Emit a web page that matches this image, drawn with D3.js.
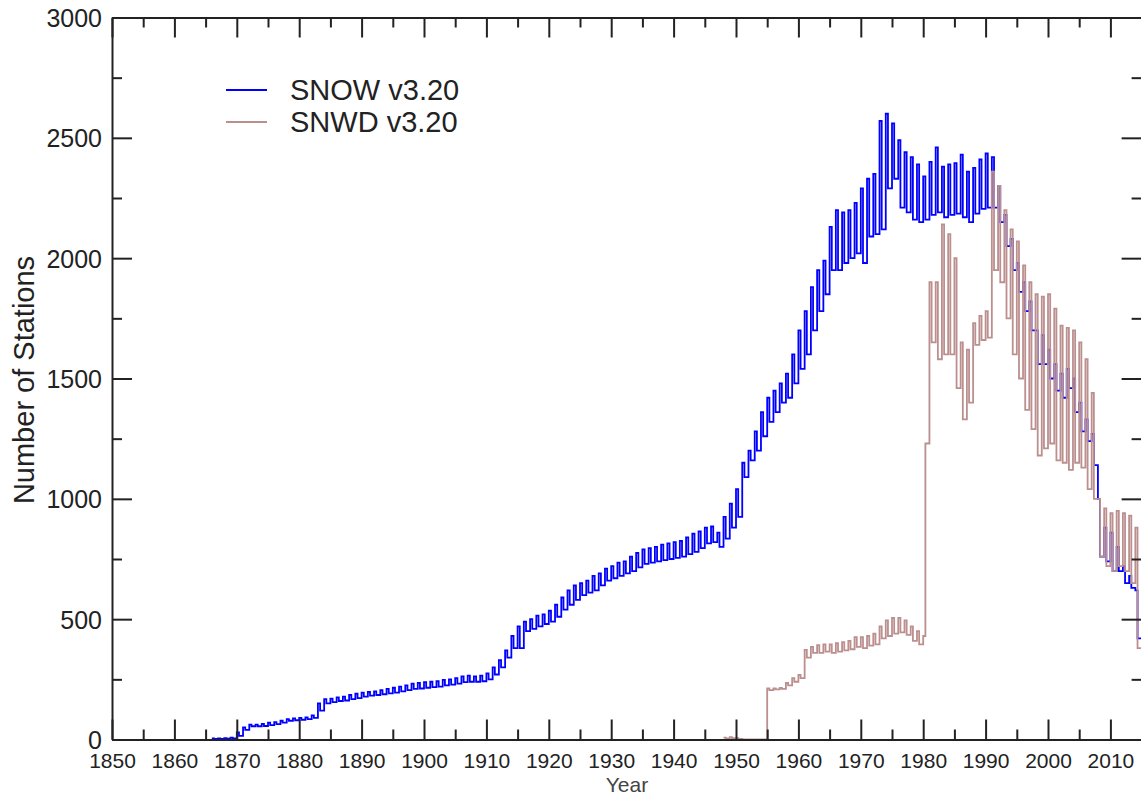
<!DOCTYPE html>
<html>
<head>
<meta charset="utf-8">
<script src="https://cdn.jsdelivr.net/npm/d3@7"></script>
<style>
  body { margin: 0; background: #fff; }
  svg { display: block; font-family: "Liberation Sans", Arial, sans-serif; }
  .axis path, .axis line { stroke: #222; stroke-width: 2; }
  .axis text { fill: #222; }
</style>
</head>
<body>
<script>
// station counts, one [winter high, summer low] pair per year
var snowStart = 1866
var snowHigh = [5, 5, 6, 8, 30, 50, 62, 62, 65, 70, 72, 78, 85, 88, 90, 92, 100,
  150, 168, 170, 175, 178, 185, 190, 195, 198, 200, 205, 210, 215, 220, 225, 232, 235,
  238, 240, 242, 248, 250, 255, 262, 265, 262, 265, 275, 300, 330, 370, 430, 470, 490,
  500, 515, 520, 535, 560, 590, 620, 640, 650, 660, 680, 690, 710, 720, 735, 740, 760,
  775, 790, 795, 800, 810, 815, 820, 825, 840, 855, 865, 880, 885, 860, 925, 980, 1040,
  1150, 1200, 1280, 1360, 1420, 1450, 1480, 1520, 1600, 1700, 1780, 1880, 1950, 1990,
  2130, 2200, 2190, 2200, 2230, 2290, 2330, 2350, 2570, 2600, 2560, 2490, 2440, 2420,
  2390, 2340, 2400, 2460, 2380, 2390, 2395, 2430, 2360, 2375, 2410, 2435, 2420, 2300,
  2180, 2080, 1980, 1900, 1820, 1700, 1680, 1620, 1560, 1520, 1540, 1500, 1400, 1330,
  1270, 1000, 880, 860, 800, 720, 680, 620]
var snowLow = [3, 3, 4, 5, 15, 40, 55, 55, 56, 60, 64, 70, 78, 80, 82, 85, 90,
  120, 150, 155, 160, 162, 168, 172, 178, 182, 185, 188, 192, 195, 200, 205, 210, 212,
  215, 218, 220, 225, 228, 232, 238, 240, 240, 242, 250, 270, 300, 340, 380, 380, 450,
  460, 470, 480, 490, 510, 540, 560, 580, 600, 610, 620, 640, 660, 670, 680, 690, 700,
  715, 730, 735, 740, 745, 750, 755, 760, 770, 780, 795, 815, 820, 800, 835, 880, 925,
  1090, 1160, 1200, 1260, 1320, 1360, 1400, 1420, 1480, 1540, 1600, 1700, 1780, 1850,
  1950, 1950, 1980, 2000, 2020, 1980, 2090, 2100, 2120, 2290, 2330, 2210, 2190, 2160,
  2150, 2160, 2180, 2190, 2170, 2180, 2185, 2170, 2150, 2185, 2205, 2210, 2210, 2150,
  2050, 1950, 1860, 1780, 1700, 1560, 1560, 1500, 1450, 1420, 1460, 1360, 1280, 1240,
  1140, 760, 740, 700, 700, 650, 630, 420]

var snwdStart = 1948
var snwdHigh = [8, 10, 6, 0, 0, 0, 0, 212, 212, 214, 235, 255, 268, 372, 385, 392, 395,
  395, 400, 405, 410, 425, 425, 430, 440, 470, 495, 505, 505, 495, 470, 450, 430,
  1900, 1900, 2140, 2100, 2000, 1650, 1620, 1730, 1760, 1780, 2360, 2300, 2200, 2120,
  2070, 1970, 1900, 1850, 1840, 1850, 1790, 1720, 1710, 1700, 1650, 1580, 1440, 1000,
  960, 940, 950, 940, 930, 880]
var snwdLow = [5, 6, 2, 0, 0, 0, 0, 205, 208, 210, 225, 240, 255, 340, 360, 360, 365,
  360, 365, 370, 375, 385, 380, 390, 395, 420, 430, 440, 445, 435, 410, 395, 1230,
  1650, 1580, 1600, 1600, 1460, 1330, 1400, 1640, 1660, 1670, 1950, 1900, 1750, 1600,
  1500, 1370, 1290, 1180, 1210, 1230, 1160, 1150, 1120, 1150, 1130, 1040, 1000, 760,
  720, 700, 720, 700, 650, 380]

var xTicks = d3.range(1850, 2011, 10)
var yTicks = d3.range(0, 3001, 500)

var width = 1141, height = 796
var x0 = 112, x1 = 1141.6, y0 = 739.5, y1 = 17.5

var svg = d3.select("body").append("svg")
  .attr("width", width)
  .attr("height", height)

var x = d3.scaleLinear().domain([1850, 2015]).range([x0, x1])
var y = d3.scaleLinear().domain([0, 3000]).range([y0, y1])

// winter high lasts about a third of the year
function toPoints(start, hi, lo) {
  var pts = []
  hi.forEach(function (h, i) {
    pts.push([start + i, h])
    pts.push([start + i + 0.35, lo[i]])
  })
  pts.push([start + hi.length, lo[lo.length - 1]])
  return pts
}

var line = d3.line()
  .x(function (d) { return x(d[0]) })
  .y(function (d) { return y(d[1]) })
  .curve(d3.curveStepAfter)

svg.append("path")
  .datum(toPoints(snowStart, snowHigh, snowLow))
  .attr("d", line)
  .attr("fill", "none")
  .attr("stroke", "#0000ff")
  .attr("stroke-width", 1.8)

svg.append("path")
  .datum(toPoints(snwdStart, snwdHigh, snwdLow))
  .attr("d", line)
  .attr("fill", "none")
  .attr("stroke", "#bc8f8f")
  .attr("stroke-width", 1.8)

// axes: major ticks inward 20px, minor 10px
var xMinor = d3.range(1855, 2015, 10)
var yMinor = d3.range(250, 3000, 500)

var bottom = svg.append("g").attr("class", "axis")
  .attr("transform", "translate(0," + y0 + ")")
  .call(d3.axisBottom(x).tickValues(xTicks).tickFormat(d3.format("d"))
    .tickSizeInner(-20).tickSizeOuter(0).tickPadding(8))
bottom.selectAll("text").attr("font-size", 21).attr("y", 28).attr("dy", 0)
svg.append("g").attr("class", "axis")
  .attr("transform", "translate(0," + y0 + ")")
  .call(d3.axisBottom(x).tickValues(xMinor).tickFormat("").tickSize(-10))
  .select(".domain").remove()

svg.append("g").attr("class", "axis")
  .attr("transform", "translate(0," + y1 + ")")
  .call(d3.axisTop(x).tickValues(xTicks).tickFormat("").tickSizeInner(-20).tickSizeOuter(0))
svg.append("g").attr("class", "axis")
  .attr("transform", "translate(0," + y1 + ")")
  .call(d3.axisTop(x).tickValues(xMinor).tickFormat("").tickSize(-10))
  .select(".domain").remove()

var left = svg.append("g").attr("class", "axis")
  .attr("transform", "translate(" + x0 + ",0)")
  .call(d3.axisLeft(y).tickValues(yTicks).tickFormat(d3.format("d"))
    .tickSizeInner(-20).tickSizeOuter(0).tickPadding(10))
left.selectAll("text").attr("font-size", 25).attr("x", -10).attr("dy", "0.36em")
svg.append("g").attr("class", "axis")
  .attr("transform", "translate(" + x0 + ",0)")
  .call(d3.axisLeft(y).tickValues(yMinor).tickFormat("").tickSize(-10))
  .select(".domain").remove()

svg.append("g").attr("class", "axis")
  .attr("transform", "translate(" + x1 + ",0)")
  .call(d3.axisRight(y).tickValues(yTicks).tickFormat("").tickSizeInner(-20).tickSizeOuter(0))
svg.append("g").attr("class", "axis")
  .attr("transform", "translate(" + x1 + ",0)")
  .call(d3.axisRight(y).tickValues(yMinor).tickFormat("").tickSize(-10))
  .select(".domain").remove()

// titles
svg.append("text")
  .attr("x", 627).attr("y", 792)
  .attr("text-anchor", "middle")
  .attr("font-size", 21)
  .attr("fill", "#444")
  .text("Year")

svg.append("text")
  .attr("transform", "translate(34,380) rotate(-90)")
  .attr("text-anchor", "middle")
  .attr("font-size", 29)
  .attr("fill", "#222")
  .text("Number of Stations")

// legend
var legend = [["SNOW v3.20", "#0000ff", 90], ["SNWD v3.20", "#bc8f8f", 122]]
legend.forEach(function (d) {
  svg.append("line")
    .attr("x1", 226).attr("x2", 267)
    .attr("y1", d[2]).attr("y2", d[2])
    .attr("stroke", d[1]).attr("stroke-width", 1.8)
  svg.append("text")
    .attr("x", 290).attr("y", d[2] + 10)
    .attr("font-size", 29)
    .attr("fill", "#222")
    .text(d[0])
})
</script>
</body>
</html>
